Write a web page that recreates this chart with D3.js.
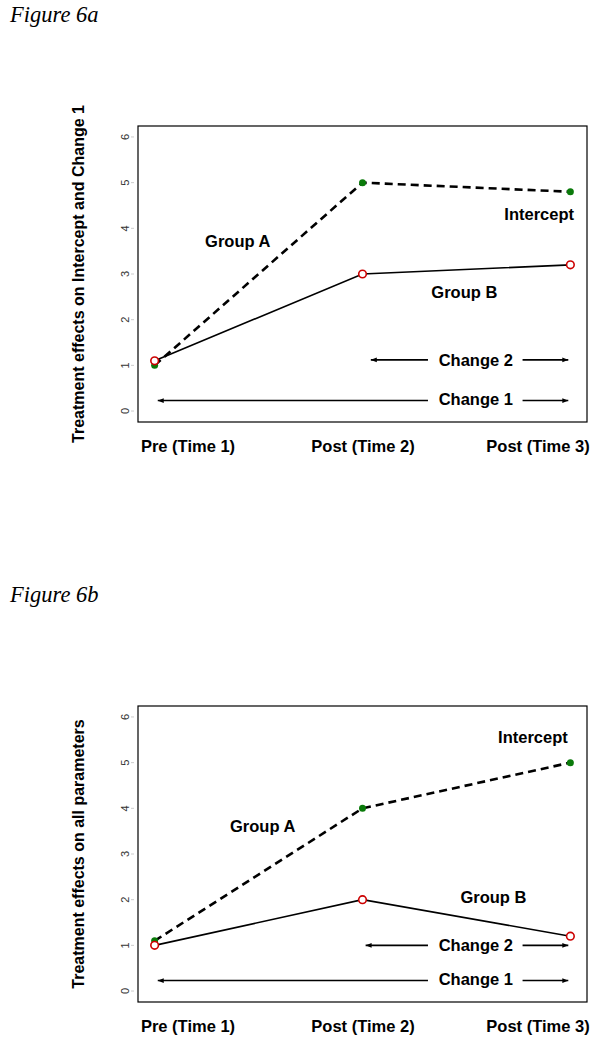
<!DOCTYPE html>
<html>
<head>
<meta charset="utf-8">
<script src="https://cdn.jsdelivr.net/npm/d3@7"></script>
<style>
  body { margin: 0; background: #fff; }
  svg text { font-family: "Liberation Sans", Arial, sans-serif; }
</style>
</head>
<body>
<svg id="chart" width="600" height="1044"></svg>
<script>
// time points and labels
var times = [1, 2, 3];
var timeLabels = ["Pre (Time 1)", "Post (Time 2)", "Post (Time 3)"];
var yTicks = [0, 1, 2, 3, 4, 5, 6];

// Figure 6a values
var groupA6a = [1.0, 5.0, 4.8];
var groupB6a = [1.1, 3.0, 3.2];
// Figure 6b values
var groupA6b = [1.1, 4.0, 5.0];
var groupB6b = [1.0, 2.0, 1.2];

var panels = [
  { title: "Figure 6a", ytitle: "Treatment effects on Intercept and Change 1",
    a: groupA6a, b: groupB6a, top: 0,
    labels: [
      { t: "Group A", x: 1.4, y: 3.72 },
      { t: "Intercept", x: 2.85, y: 4.3 },
      { t: "Group B", x: 2.49, y: 2.6 },
      { t: "Change 2", x: 2.545, y: 1.12 },
      { t: "Change 1", x: 2.545, y: 0.25 }
    ],
    change2: 1.12, change2Start: 2.04 },
  { title: "Figure 6b", ytitle: "Treatment effects on all parameters",
    a: groupA6b, b: groupB6b, top: 580,
    labels: [
      { t: "Group A", x: 1.52, y: 3.6 },
      { t: "Intercept", x: 2.82, y: 5.55 },
      { t: "Group B", x: 2.63, y: 2.05 },
      { t: "Change 2", x: 2.545, y: 1.0 },
      { t: "Change 1", x: 2.545, y: 0.25 }
    ],
    change2: 1.0, change2Start: 2.015 }
];

var svg = d3.select("#chart");

svg.append("defs").append("marker")
    .attr("id", "head")
    .attr("viewBox", "0 0 10 10")
    .attr("refX", 10)
    .attr("refY", 5)
    .attr("markerWidth", 6)
    .attr("markerHeight", 6)
    .attr("markerUnits", "userSpaceOnUse")
    .attr("orient", "auto-start-reverse")
  .append("path")
    .attr("d", "M0,1L10,5L0,9Z")
    .attr("fill", "#000");

var x = d3.scaleLinear().domain([0.92, 3.08]).range([138, 587]);

panels.forEach(function(p) {
  var g = svg.append("g").attr("transform", "translate(0," + p.top + ")");
  var y = d3.scaleLinear().domain([-0.24, 6.24]).range([422, 126]);

  g.append("text")
      .attr("x", 10)
      .attr("y", 22)
      .style("font-family", "'Liberation Serif', 'Times New Roman', serif")
      .style("font-style", "italic")
      .style("font-size", "22.5px")
      .text(p.title);

  // box
  g.append("rect")
      .attr("x", x.range()[0])
      .attr("y", y.range()[1])
      .attr("width", x.range()[1] - x.range()[0])
      .attr("height", y.range()[0] - y.range()[1])
      .attr("fill", "none")
      .attr("stroke", "#000")
      .attr("stroke-width", 1.2);

  // faint y ticks
  g.selectAll("line.ytick")
      .data(yTicks)
    .enter().append("line")
      .attr("class", "ytick")
      .attr("x1", 131)
      .attr("x2", 134)
      .attr("y1", function(d) { return y(d); })
      .attr("y2", function(d) { return y(d); })
      .attr("stroke", "#ccc")
      .attr("stroke-width", 1);

  // y axis tick labels, rotated like R
  g.selectAll("text.ytick")
      .data(yTicks)
    .enter().append("text")
      .attr("class", "ytick")
      .attr("transform", function(d) { return "translate(125," + y(d) + ") rotate(-90)"; })
      .attr("text-anchor", "middle")
      .attr("dy", "0.35em")
      .style("font-size", "11px")
      .attr("fill", "#333")
      .text(function(d) { return d; });

  g.append("text")
      .attr("transform", "translate(84," + (y(3)) + ") rotate(-90)")
      .attr("text-anchor", "middle")
      .style("font-size", "16px")
      .style("font-weight", "bold")
      .text(p.ytitle);

  // x labels
  var labelX = [188, 363, 538];
  g.selectAll("text.xlab")
      .data(timeLabels)
    .enter().append("text")
      .attr("class", "xlab")
      .attr("x", function(d, i) { return labelX[i]; })
      .attr("y", 452)
      .attr("text-anchor", "middle")
      .style("font-size", "16.5px")
      .style("font-weight", "bold")
      .text(function(d) { return d; });

  var line = d3.line()
      .x(function(d, i) { return x(times[i]); })
      .y(function(d) { return y(d); });

  g.append("path")
      .datum(p.b)
      .attr("d", line)
      .attr("fill", "none")
      .attr("stroke", "#000")
      .attr("stroke-width", 1.6);

  g.append("path")
      .datum(p.a)
      .attr("d", line)
      .attr("fill", "none")
      .attr("stroke", "#000")
      .attr("stroke-width", 2.6)
      .attr("stroke-dasharray", "8,5");

  g.selectAll("circle.a")
      .data(p.a)
    .enter().append("circle")
      .attr("class", "a")
      .attr("cx", function(d, i) { return x(times[i]); })
      .attr("cy", function(d) { return y(d); })
      .attr("r", 3.5)
      .attr("fill", "#0a7a0a");

  g.selectAll("circle.b")
      .data(p.b)
    .enter().append("circle")
      .attr("class", "b")
      .attr("cx", function(d, i) { return x(times[i]); })
      .attr("cy", function(d) { return y(d); })
      .attr("r", 3.8)
      .attr("fill", "#fff")
      .attr("stroke", "#cc0000")
      .attr("stroke-width", 1.6);

  // change arrows
  var arrows = [
    [p.change2Start, 2.315, p.change2],
    [2.77, 2.99, p.change2],
    [1.015, 2.315, 0.23],
    [2.77, 2.99, 0.23]
  ];
  arrows.forEach(function(a, i) {
    var ln = g.append("line")
        .attr("x1", x(a[0]))
        .attr("x2", x(a[1]))
        .attr("y1", y(a[2]))
        .attr("y2", y(a[2]))
        .attr("stroke", "#000")
        .attr("stroke-width", 1.6);
    if (i % 2 === 0) ln.attr("marker-start", "url(#head)");
    else ln.attr("marker-end", "url(#head)");
  });

  g.selectAll("text.lab")
      .data(p.labels)
    .enter().append("text")
      .attr("class", "lab")
      .attr("x", function(d) { return x(d.x); })
      .attr("y", function(d) { return y(d.y); })
      .attr("dy", "0.35em")
      .attr("text-anchor", "middle")
      .style("font-size", "16.5px")
      .style("font-weight", "bold")
      .text(function(d) { return d.t; });
});
</script>
</body>
</html>
